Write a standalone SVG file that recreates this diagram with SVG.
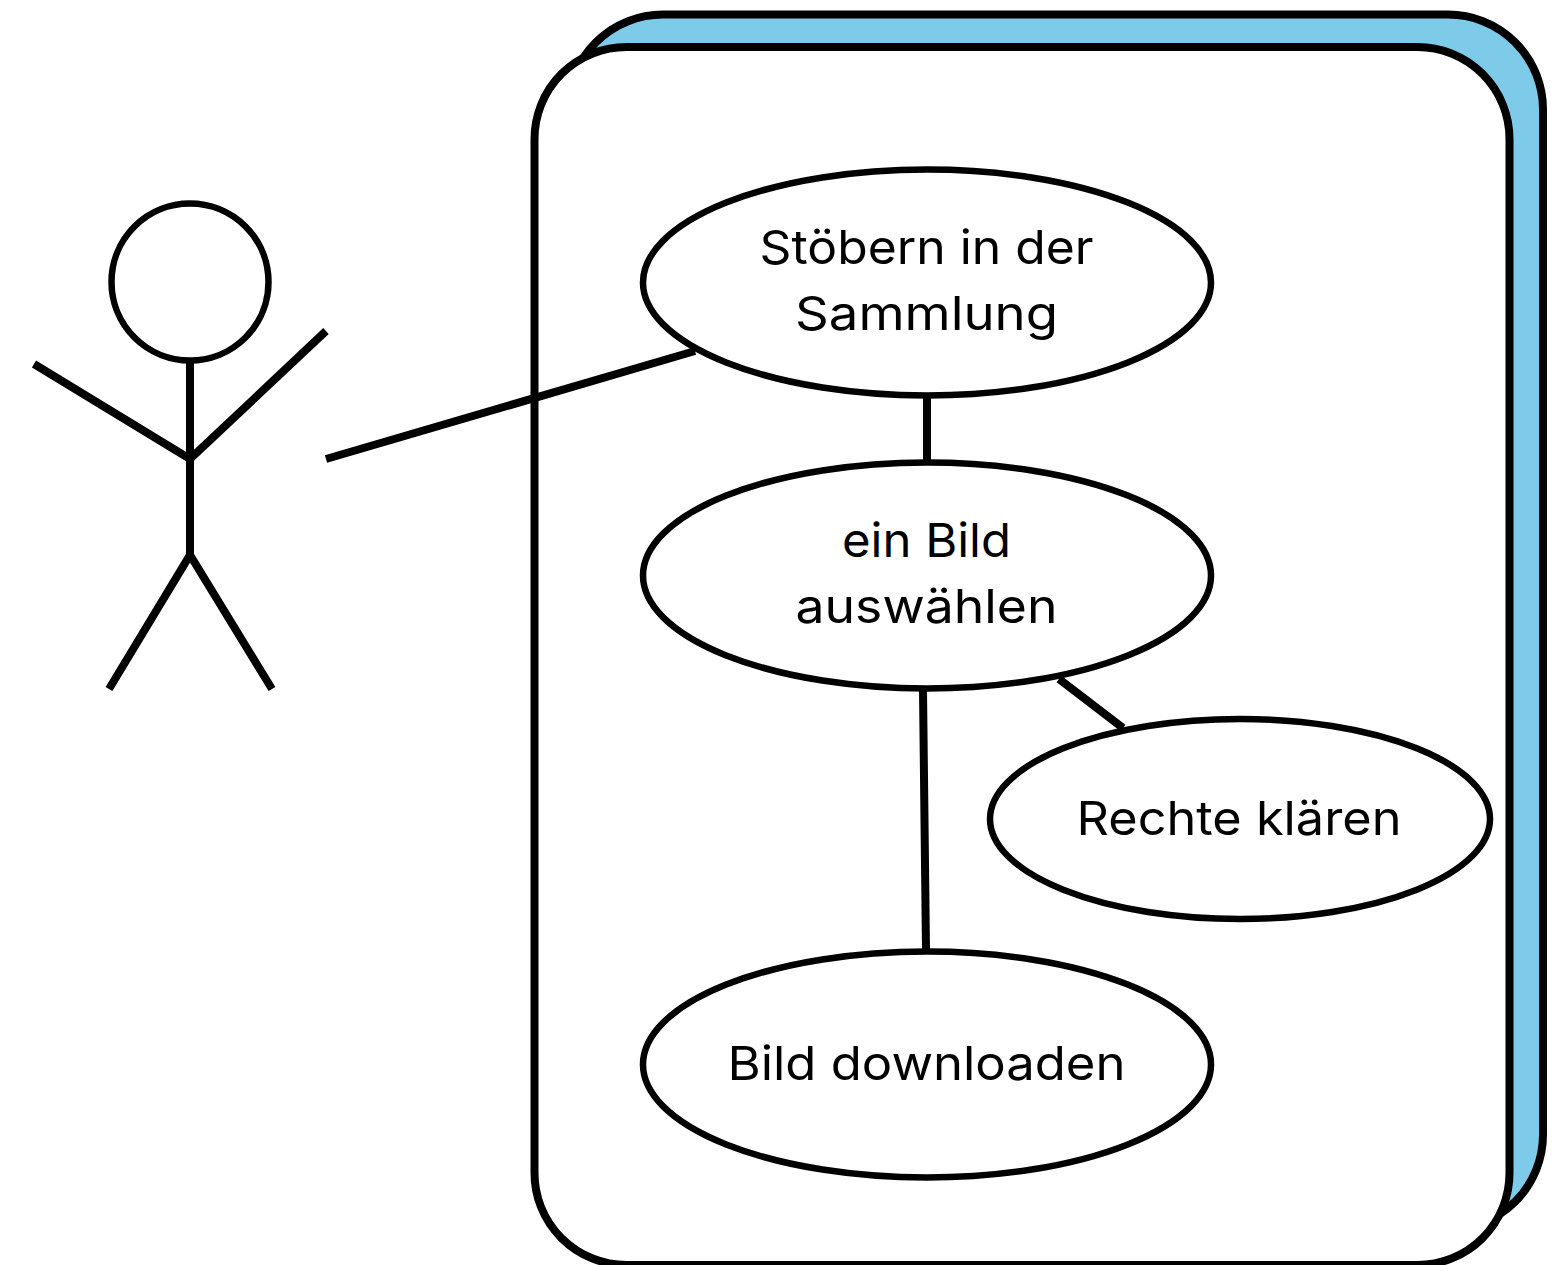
<svg xmlns="http://www.w3.org/2000/svg" width="1560" height="1265" viewBox="0 0 1560 1265">
<style>
.s{fill:none;stroke:#000;stroke-width:8}
.b{fill:#fff;stroke:#000;stroke-width:6.5}
.l{fill:none;stroke:#000;stroke-width:8}
.f{stroke:#000;stroke-width:8}
text{font-family:"Inter","Noto Sans",sans-serif;font-size:47px;fill:#000;text-anchor:middle}
</style>
<rect width="1560" height="1265" fill="#fff"/>
<g id="system">
<rect class="f" x="568" y="14.5" width="975" height="1215" rx="95" ry="95" fill="#7ecbe9"/>
<rect class="f" x="534.5" y="47" width="975" height="1218" rx="92" ry="92" fill="#fff"/>
</g>
<g id="actor">
<circle cx="190" cy="282" r="78.5" class="b"/>
<path class="s" d="M190 363V555M34 364L190 459L326 331M109 689L190 555L272 689"/>
</g>
<g id="connectors">
<path class="l" d="M326 459L695 351M927 396V462M923 690L926 950M1059 679L1123 728"/>
</g>
<g id="n1"><ellipse cx="927" cy="282.500" rx="284" ry="113" class="b"/>
<text x="926.500" y="263.500" textLength="334" lengthAdjust="spacingAndGlyphs">Stöbern in der</text>
<text x="926.500" y="329.500" textLength="263" lengthAdjust="spacingAndGlyphs">Sammlung</text></g>
<g id="n2"><ellipse cx="927" cy="575.500" rx="284" ry="113" class="b"/>
<text x="926.500" y="556.500" textLength="169" lengthAdjust="spacingAndGlyphs">ein Bild</text>
<text x="926.500" y="622.500" textLength="262" lengthAdjust="spacingAndGlyphs">auswählen</text></g>
<g id="n3"><ellipse cx="1240" cy="819" rx="250" ry="100" class="b"/>
<text x="1239" y="834.500" textLength="325" lengthAdjust="spacingAndGlyphs">Rechte klären</text></g>
<g id="n4"><ellipse cx="927" cy="1064.500" rx="284" ry="113" class="b"/>
<text x="926.500" y="1079.500" textLength="398" lengthAdjust="spacingAndGlyphs">Bild downloaden</text></g>
</svg>
